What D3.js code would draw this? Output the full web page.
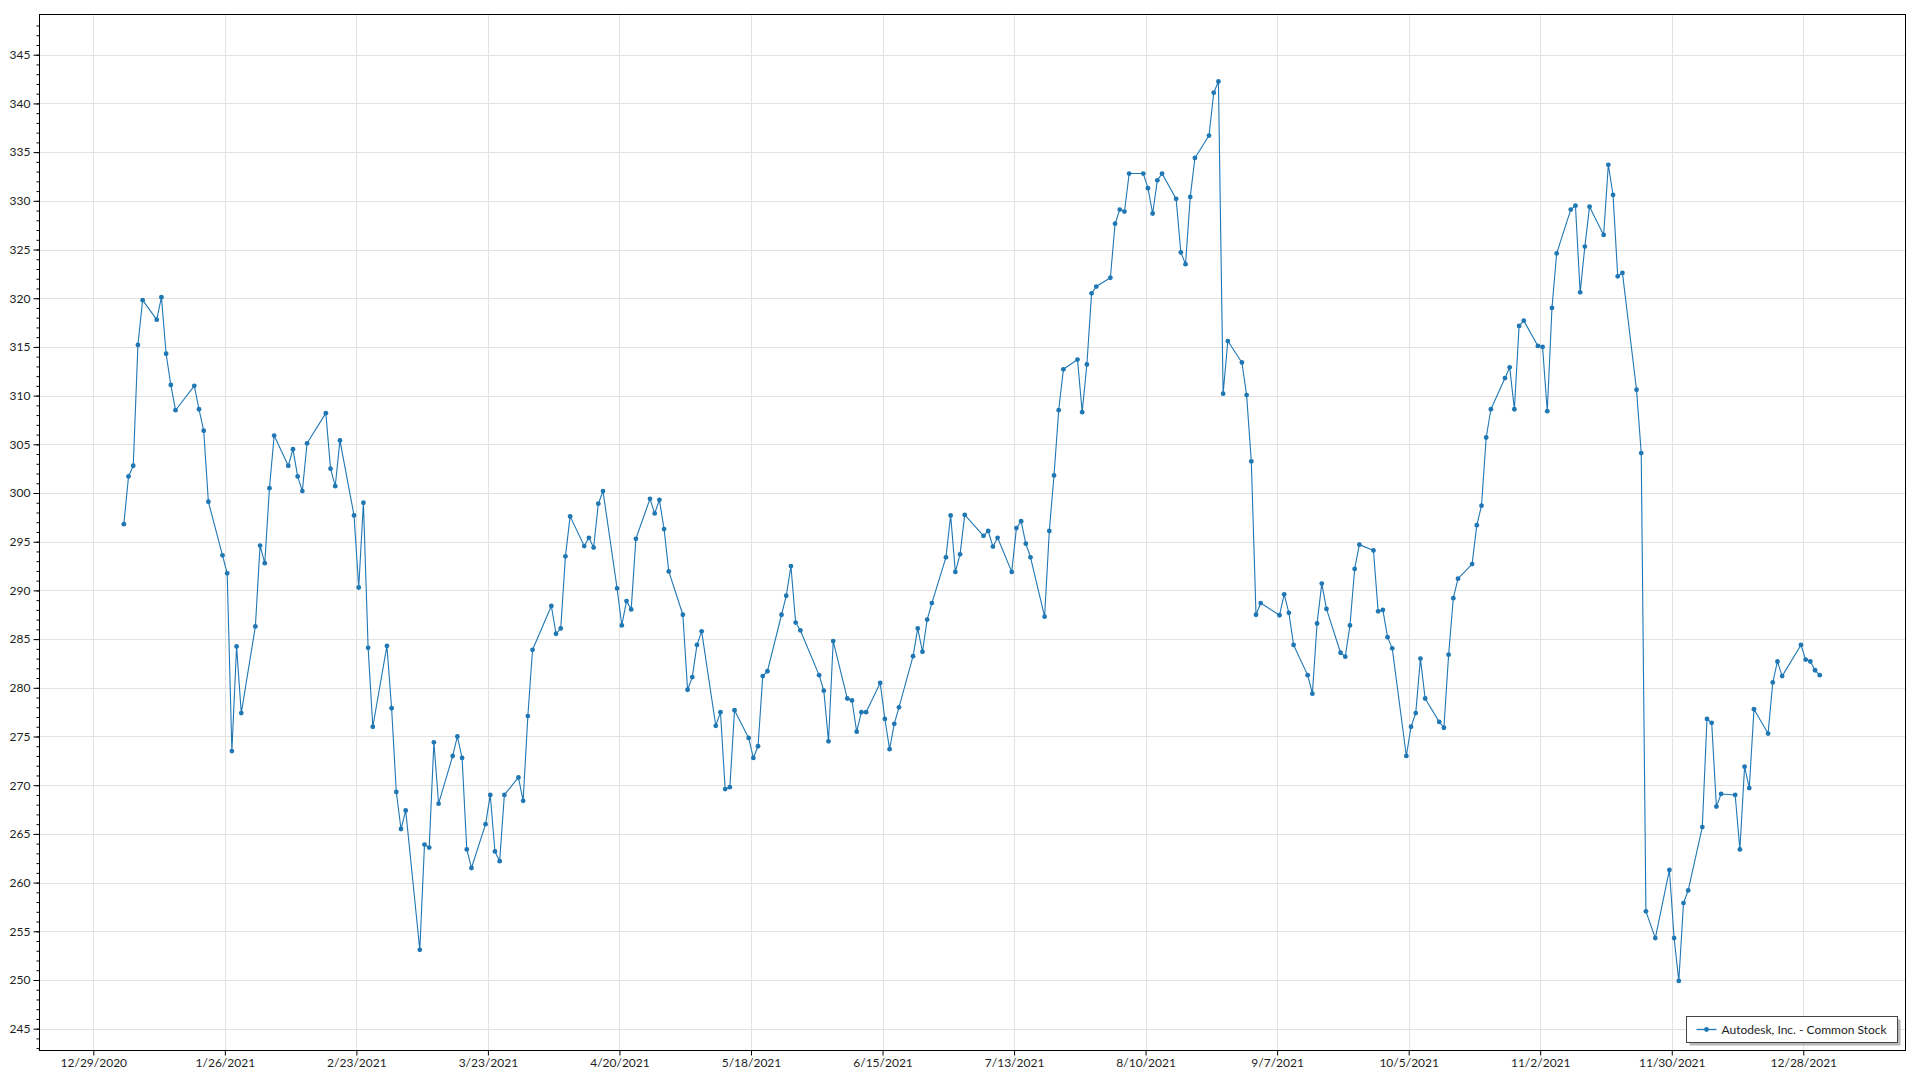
<!DOCTYPE html>
<html><head><meta charset="utf-8">
<script src="https://cdn.jsdelivr.net/npm/d3@7"></script>
<style>
html,body{margin:0;padding:0;background:#fff;}
svg{display:block;font-family:Lato,"Segoe UI","Noto Sans",sans-serif;}
</style></head><body>
<svg id="chart" width="1920" height="1080"></svg>
<script>
const seriesName = "Autodesk, Inc. - Common Stock";

const tradeDates = [
"2021-01-04","2021-01-05","2021-01-06","2021-01-07","2021-01-08","2021-01-11","2021-01-12","2021-01-13","2021-01-14","2021-01-15","2021-01-19","2021-01-20","2021-01-21","2021-01-22","2021-01-25","2021-01-26","2021-01-27","2021-01-28","2021-01-29",
"2021-02-01","2021-02-02","2021-02-03","2021-02-04","2021-02-05","2021-02-08","2021-02-09","2021-02-10","2021-02-11","2021-02-12","2021-02-16","2021-02-17","2021-02-18","2021-02-19","2021-02-22","2021-02-23","2021-02-24","2021-02-25","2021-02-26",
"2021-03-01","2021-03-02","2021-03-03","2021-03-04","2021-03-05","2021-03-08","2021-03-09","2021-03-10","2021-03-11","2021-03-12","2021-03-15","2021-03-16","2021-03-17","2021-03-18","2021-03-19","2021-03-22","2021-03-23","2021-03-24","2021-03-25","2021-03-26","2021-03-29","2021-03-30","2021-03-31",
"2021-04-01","2021-04-05","2021-04-06","2021-04-07","2021-04-08","2021-04-09","2021-04-12","2021-04-13","2021-04-14","2021-04-15","2021-04-16","2021-04-19","2021-04-20","2021-04-21","2021-04-22","2021-04-23","2021-04-26","2021-04-27","2021-04-28","2021-04-29","2021-04-30",
"2021-05-03","2021-05-04","2021-05-05","2021-05-06","2021-05-07","2021-05-10","2021-05-11","2021-05-12","2021-05-13","2021-05-14","2021-05-17","2021-05-18","2021-05-19","2021-05-20","2021-05-21","2021-05-24","2021-05-25","2021-05-26","2021-05-27","2021-05-28",
"2021-06-01","2021-06-02","2021-06-03","2021-06-04","2021-06-07","2021-06-08","2021-06-09","2021-06-10","2021-06-11","2021-06-14","2021-06-15","2021-06-16","2021-06-17","2021-06-18","2021-06-21","2021-06-22","2021-06-23","2021-06-24","2021-06-25","2021-06-28","2021-06-29","2021-06-30",
"2021-07-01","2021-07-02","2021-07-06","2021-07-07","2021-07-08","2021-07-09","2021-07-12","2021-07-13","2021-07-14","2021-07-15","2021-07-16","2021-07-19","2021-07-20","2021-07-21","2021-07-22","2021-07-23","2021-07-26","2021-07-27","2021-07-28","2021-07-29","2021-07-30",
"2021-08-02","2021-08-03","2021-08-04","2021-08-05","2021-08-06","2021-08-09","2021-08-10","2021-08-11","2021-08-12","2021-08-13","2021-08-16","2021-08-17","2021-08-18","2021-08-19","2021-08-20","2021-08-23","2021-08-24","2021-08-25","2021-08-26","2021-08-27","2021-08-30","2021-08-31",
"2021-09-01","2021-09-02","2021-09-03","2021-09-07","2021-09-08","2021-09-09","2021-09-10","2021-09-13","2021-09-14","2021-09-15","2021-09-16","2021-09-17","2021-09-20","2021-09-21","2021-09-22","2021-09-23","2021-09-24","2021-09-27","2021-09-28","2021-09-29","2021-09-30",
"2021-10-01","2021-10-04","2021-10-05","2021-10-06","2021-10-07","2021-10-08","2021-10-11","2021-10-12","2021-10-13","2021-10-14","2021-10-15","2021-10-18","2021-10-19","2021-10-20","2021-10-21","2021-10-22","2021-10-25","2021-10-26","2021-10-27","2021-10-28","2021-10-29",
"2021-11-01","2021-11-02","2021-11-03","2021-11-04","2021-11-05","2021-11-08","2021-11-09","2021-11-10","2021-11-11","2021-11-12","2021-11-15","2021-11-16","2021-11-17","2021-11-18","2021-11-19","2021-11-22","2021-11-23","2021-11-24","2021-11-26","2021-11-29","2021-11-30",
"2021-12-01","2021-12-02","2021-12-03","2021-12-06","2021-12-07","2021-12-08","2021-12-09","2021-12-10","2021-12-13","2021-12-14","2021-12-15","2021-12-16","2021-12-17","2021-12-20","2021-12-21","2021-12-22","2021-12-23","2021-12-27","2021-12-28","2021-12-29","2021-12-30","2021-12-31"
];

const closePrices = [
296.8,301.7,302.8,315.2,319.8,317.8,320.1,314.3,311.1,308.5,311.0,308.6,306.4,299.1,293.6,291.75,273.5,284.25,277.4,
286.3,294.6,292.8,300.5,305.9,302.8,304.5,301.7,300.2,305.1,308.2,302.5,300.7,305.4,297.7,290.3,299.0,284.1,276.0,
284.3,277.9,269.3,265.5,267.4,253.1,263.9,263.6,274.4,268.1,273.0,275.0,272.8,263.4,261.5,266.0,269.0,263.2,262.2,269.0,270.8,268.4,277.1,
283.9,288.4,285.55,286.1,293.5,297.6,294.55,295.4,294.4,298.9,300.2,290.2,286.4,288.9,288.05,295.3,299.4,297.9,299.3,296.3,291.95,
287.5,279.8,281.1,284.4,285.8,276.1,277.5,269.6,269.8,277.7,274.85,272.8,274.0,281.2,281.7,287.5,289.45,292.5,286.7,285.9,
281.3,279.7,274.5,284.8,278.9,278.7,275.5,277.5,277.5,280.5,276.8,273.7,276.3,278.0,283.25,286.1,283.7,287.0,288.7,293.4,297.7,291.9,
293.7,297.75,295.6,296.1,294.5,295.4,291.9,296.4,297.1,294.8,293.4,287.3,296.1,301.8,308.5,312.7,313.7,308.3,313.2,320.5,321.2,
322.1,327.65,329.1,328.9,332.8,332.8,331.3,328.7,332.1,332.8,330.2,324.7,323.5,330.4,334.4,336.7,341.1,342.25,310.2,315.6,313.4,310.05,
303.25,287.5,288.7,287.45,289.6,287.7,284.4,281.3,279.4,286.6,290.7,288.1,283.6,283.2,286.4,292.2,294.7,294.1,287.85,288.0,285.2,
284.05,273.0,276.0,277.4,283.0,278.9,276.5,275.9,283.4,289.2,291.2,292.7,296.7,298.7,305.7,308.6,311.8,312.9,308.6,317.15,317.7,
315.1,315.0,308.4,319.0,324.6,329.1,329.5,320.6,325.3,329.4,326.5,333.7,330.6,322.25,322.6,310.6,304.1,257.05,254.3,261.3,254.3,
249.9,257.9,259.2,265.7,276.8,276.4,267.8,269.1,269.0,263.4,271.9,269.7,277.8,275.3,280.55,282.7,281.2,284.4,282.9,282.7,281.8,281.3
];

const xTickLabels = ["12/29/2020","1/26/2021","2/23/2021","3/23/2021","4/20/2021","5/18/2021","6/15/2021","7/13/2021","8/10/2021","9/7/2021","10/5/2021","11/2/2021","11/30/2021","12/28/2021"];
const yTickValues = [245,250,255,260,265,270,275,280,285,290,295,300,305,310,315,320,325,330,335,340,345];

// ---- layout ----
const W = 1920, H = 1080;
const L = 39.5, R = 1905.5, T = 14.5, B = 1050.5;
const lineColor = "#1f77b4";
const gridColor = "#e2e2e2";
const textColor = "#1e1e1e";

const svg = d3.select("#chart");
const parseISO = d3.timeParse("%Y-%m-%d");
const parseTick = d3.timeParse("%m/%d/%Y");
const tickDates = xTickLabels.map(parseTick);

const data = tradeDates.map((d, i) => ({ date: d3.timeHour.offset(parseISO(d), 12), value: closePrices[i] }));

// x scale calibrated on tick positions, then extended to plot edges
const xRef = d3.scaleTime().domain([tickDates[0], tickDates[tickDates.length - 1]]).range([93.3, 1803.3]);
const x = d3.scaleTime().domain([xRef.invert(L), xRef.invert(R)]).range([L, R]);
const y = d3.scaleLinear().domain([242.76, 349.13]).range([B, T]);

// grid
const grid = svg.append("g");
grid.selectAll("line.h").data(yTickValues).join("line")
  .attr("x1", L).attr("x2", R)
  .attr("y1", d => Math.round(y(d)) + 0.5).attr("y2", d => Math.round(y(d)) + 0.5)
  .attr("stroke", gridColor).attr("stroke-width", 1);
grid.selectAll("line.v").data(tickDates).join("line")
  .attr("y1", T).attr("y2", B)
  .attr("x1", d => Math.round(x(d)) + 0.5).attr("x2", d => Math.round(x(d)) + 0.5)
  .attr("stroke", gridColor).attr("stroke-width", 1);

// frame
svg.append("rect").attr("x", L).attr("y", T).attr("width", R - L).attr("height", B - T)
  .attr("fill", "none").attr("stroke", "#000").attr("stroke-width", 1);

// y axis (minor + major)
const yMinor = d3.range(243, 349, 1);
const gyMinor = svg.append("g").attr("transform", `translate(${L},0)`)
  .call(d3.axisLeft(y).tickValues(yMinor).tickSize(3).tickFormat(""));
gyMinor.select(".domain").remove();
gyMinor.selectAll("line").attr("stroke", "#000");

const gy = svg.append("g").attr("transform", `translate(${L},0)`)
  .call(d3.axisLeft(y).tickValues(yTickValues).tickSize(6).tickPadding(3).tickFormat(d3.format("d")));
gy.select(".domain").remove();
gy.selectAll("line").attr("stroke", "#000");
gy.selectAll("text").attr("fill", textColor).style("font-size", "12px").style("font-family", "Lato, 'Segoe UI', sans-serif");

// x axis
const gx = svg.append("g").attr("transform", `translate(0,${B})`)
  .call(d3.axisBottom(x).tickValues(tickDates).tickSize(5).tickPadding(3).tickFormat((d, i) => xTickLabels[i]));
gx.select(".domain").remove();
gx.selectAll("line").attr("stroke", "#000");
gx.selectAll("text").attr("fill", textColor).style("font-size", "12px").style("font-family", "Lato, 'Segoe UI', sans-serif");

// series
const line = d3.line().x(d => x(d.date)).y(d => y(d.value));
svg.append("path").datum(data).attr("d", line)
  .attr("fill", "none").attr("stroke", lineColor).attr("stroke-width", 1.1).attr("stroke-linejoin", "round");
svg.append("g").selectAll("circle").data(data).join("circle")
  .attr("cx", d => x(d.date)).attr("cy", d => y(d.value)).attr("r", 2.4).attr("fill", lineColor);

// legend
const lg = svg.append("g");
const lx = 1686.5, ly = 1016.5, lw = 211, lh = 26;
lg.append("rect").attr("x", lx + 3).attr("y", ly + 3).attr("width", lw).attr("height", lh).attr("fill", "#9a9a9a").attr("opacity", 0.7);
lg.append("rect").attr("x", lx).attr("y", ly).attr("width", lw).attr("height", lh).attr("fill", "#fff").attr("stroke", "#444").attr("stroke-width", 1);
lg.append("line").attr("x1", lx + 10).attr("x2", lx + 30).attr("y1", ly + 13).attr("y2", ly + 13).attr("stroke", lineColor).attr("stroke-width", 1.3);
lg.append("circle").attr("cx", lx + 20).attr("cy", ly + 13).attr("r", 2.4).attr("fill", lineColor);
lg.append("text").attr("x", lx + 35).attr("y", ly + 13).attr("dy", "0.35em")
  .attr("fill", textColor).style("font-size", "12px").text(seriesName);
</script>
</body></html>
